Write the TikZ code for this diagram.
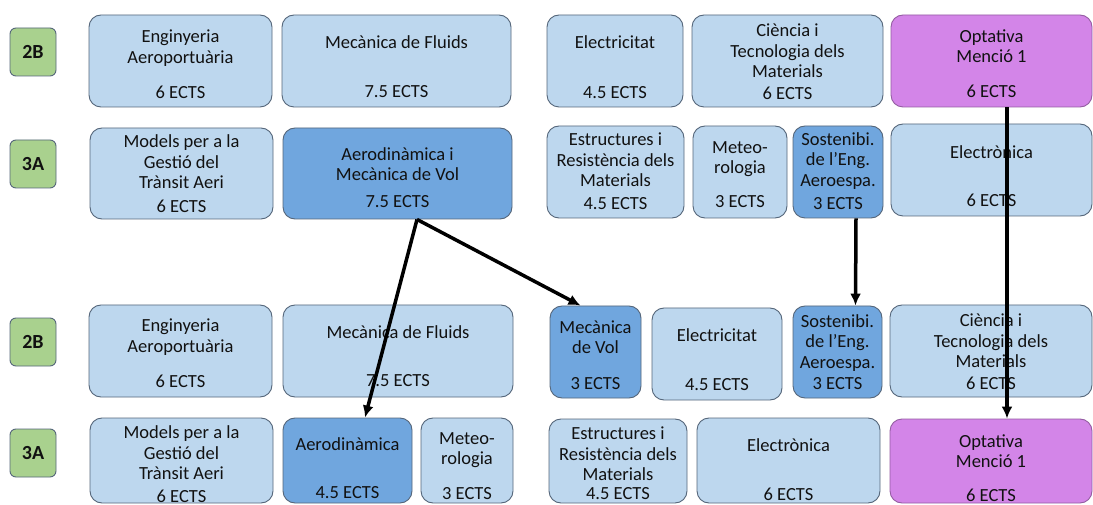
\documentclass[tikz,border=0pt]{standalone}
\usepackage{fontspec}
\setmainfont{Carlito}
\usetikzlibrary{fit,arrows.meta}
\definecolor{lblue}{HTML}{BDD7EE}
\definecolor{dblue}{HTML}{70A6DE}
\definecolor{purp}{HTML}{D385E8}
\definecolor{grn}{HTML}{A9D18E}
\definecolor{bord}{HTML}{55667A}
\definecolor{txtc}{HTML}{111111}
\tikzset{
  box/.style={draw=bord, line width=0.9pt, rounded corners=12pt, inner sep=0pt, fill=lblue},
  darkbox/.style={fill=dblue},
  purpbox/.style={fill=purp, draw=purp!70!black},
  txt/.style={inner sep=0pt, align=center, text=txtc, font=\fontsize{18.5}{20.5}\selectfont},
  lab/.style={draw=bord, line width=0.9pt, rounded corners=6pt, fill=grn, minimum width=46pt, minimum height=48pt, inner sep=0pt, font=\fontsize{20}{22}\selectfont\bfseries, text=txtc},
  arr/.style={-{Latex[length=12pt,width=11pt]}, line width=3.5pt, black}
}
\newcommand\course[8]{%
  \node[box,#2,fit={(#3) (#4)}] (#1) {};
  \node[txt] (#1t) at (#1.center |- 0,#6) {#5};
  \node[txt] (#1e) at (#1.center |- 0,#8) {#7 ECTS};
}
\begin{document}
\begin{tikzpicture}[x=1pt,y=-1pt]
\useasboundingbox[fill=white] (0,0) rectangle (1093,505);
% labels
\node[lab] (l1) at (33,52) {2B};
\node[lab] (l2) at (33,164) {3A};
\node[lab] (l3) at (33,342) {2B};
\node[lab] (l4) at (33,453) {3A};
% row 1
\course{r1a}{}{89,15}{272,107}{Enginyeria\\Aeroportuària}{48}{6}{92}
\course{r1b}{}{282,15}{511,107}{Mecànica de Fluids}{42}{7.5}{92}
\course{r1c}{}{547,15}{683,107}{Electricitat}{42}{4.5}{93}
\course{r1d}{}{692,15}{883,107}{Ciència i\\Tecnologia dels\\Materials}{51}{6}{93}
\course{r1e}{purpbox}{891,15}{1092,107}{Optativa\\Menció 1}{46}{6}{91}
% row 2
\course{r2a}{}{90,128}{273,219}{Models per a la\\Gestió del\\Trànsit Aeri}{162}{6}{206}
\course{r2b}{darkbox}{283,128}{512,219}{Aerodinàmica i\\Mecànica de Vol}{164}{7.5}{202}
\course{r2c}{}{547,126}{684,218}{Estructures i\\Resistència dels\\Materials}{160}{4.5}{204}
\course{r2d}{}{693,126}{787,218}{Meteo-\\rologia}{159}{3}{202}
\course{r2e}{darkbox}{793,126}{883,218}{Sostenibi.\\de l’Eng.\\Aeroespa.}{161}{3}{204}
\course{r2f}{}{891,124}{1092,216}{Electrònica}{152}{6}{200}
% row 3
\course{r3a}{}{89,305}{272,397}{Enginyeria\\Aeroportuària}{337}{6}{381}
\course{r3b}{}{283,305}{513,397}{Mecànica de Fluids}{332}{7.5}{381}
\course{r3c}{darkbox}{550,306}{641,398}{Mecànica\\de Vol}{337}{3}{384}
\course{r3d}{}{652,308}{782,400}{Electricitat}{335}{4.5}{385}
\course{r3e}{darkbox}{793,306}{882,398}{Sostenibi.\\de l’Eng.\\Aeroespa.}{343}{3}{384}
\course{r3f}{}{890,305}{1092,397}{Ciència i\\Tecnologia dels\\Materials}{341}{6}{383}
% row 4
\course{r4a}{}{90,418}{273,503}{Models per a la\\Gestió del\\Trànsit Aeri}{453}{6}{496}
\course{r4b}{darkbox}{283,418}{412,503}{Aerodinàmica}{444}{4.5}{493}
\course{r4c}{}{421,418}{513,503}{Meteo-\\rologia}{450}{3}{494}
\course{r4d}{}{549,419}{687,503}{Estructures i\\Resistència dels\\Materials}{454}{4.5}{494}
\course{r4e}{}{697,418}{880,503}{Electrònica}{445}{6}{494}
\course{r4f}{purpbox}{890,419}{1092,503}{Optativa\\Menció 1}{451}{6}{495}
% arrows
\coordinate (split) at ([xshift=19.5pt]r2b.south);
\draw[arr] (split) -- ([xshift=17.5pt]r4b.north);
\draw[arr] (split) -- ([xshift=-15pt]r3c.north);
\draw[arr] ([xshift=18pt]r2e.south) -- ([xshift=18pt]r3e.north);
\draw[arr] ([xshift=15.5pt]r1e.south) -- ([xshift=16pt]r4f.north);
\end{tikzpicture}
\end{document}
